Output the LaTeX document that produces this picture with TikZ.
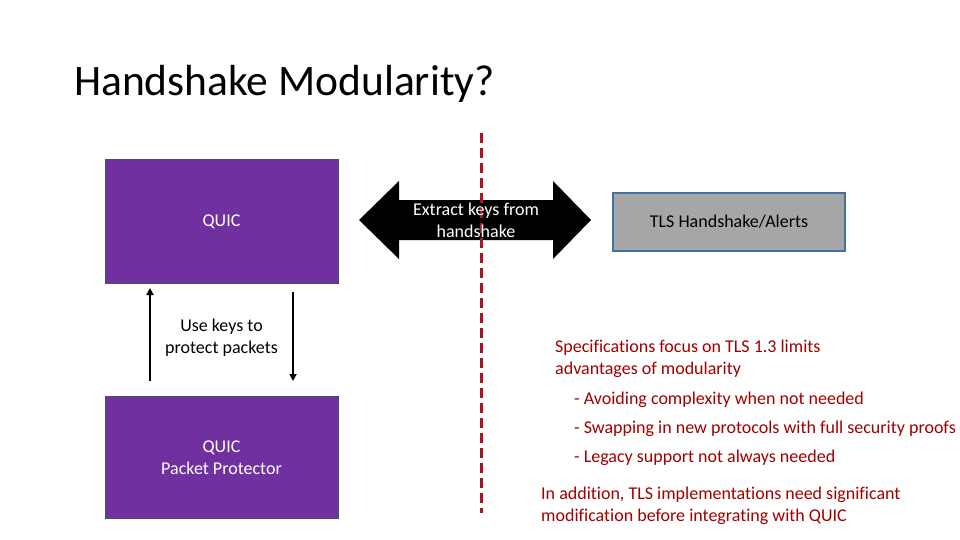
\documentclass[tikz,border=0pt]{standalone}
\usepackage{fontspec}
\setmainfont{Carlito}[Ligatures=CommonOff]
\usetikzlibrary{arrows.meta}
\definecolor{quicpurple}{RGB}{112,48,160}
\definecolor{quicborder}{RGB}{65,80,120}
\definecolor{tlsgray}{RGB}{166,166,166}
\definecolor{tlsborder}{RGB}{65,113,156}
\definecolor{darkred}{RGB}{160,0,0}
\definecolor{dashred}{RGB}{170,20,30}
\tikzset{
  bodyfont/.style={font=\fontsize{18}{22}\selectfont},
  quicbox/.style={bodyfont, draw=quicborder, line width=1pt, fill=quicpurple, text=white, minimum width=233pt, minimum height=124pt, inner sep=0pt, align=center},
  tlsbox/.style={bodyfont, draw=tlsborder, line width=2pt, fill=tlsgray, text=black, minimum width=232pt, minimum height=58pt, inner sep=0pt},
  bodytext/.style={bodyfont, text=black, align=center, inner sep=0pt},
  redtext/.style={bodyfont, text=darkred, align=left, anchor=west, inner sep=0pt},
  vertarrow/.style={line width=2.5pt, -{Triangle[width=7pt,length=7pt]}},
}
\begin{document}
\begin{tikzpicture}[x=1pt,y=-1pt]
\useasboundingbox (0,0) rectangle (960,540);
\fill[white] (0,0) rectangle (960,540);
% title
\node[anchor=base west, inner sep=0pt, font=\fontsize{43.5}{50}\selectfont] (title) at (74,96) {Handshake Modularity?};
% boxes
\node[quicbox] (quic) at (221.5,221.5) {QUIC};
\node[quicbox, minimum height=122pt] (pp) at (221.5,457.5) {QUIC\\Packet Protector};
\node[tlsbox] (tls) at (729,221.5) {TLS Handshake/Alerts};
% vertical arrows
\coordinate (upS) at (150,381);
\coordinate (upE) at (150,288);
\coordinate (dnS) at (293,292);
\coordinate (dnE) at (293,381);
\draw[vertarrow] (upS) -- (upE);
\draw[vertarrow] (dnS) -- (dnE);
\node[bodytext] (usekeys) at (221.5,338) {Use keys to\\protect packets};
% double arrow
\fill[black] (359,220) -- (399,181) -- (399,200) -- (553,200) -- (553,181) -- (591,220) -- (553,259) -- (553,240) -- (399,240) -- (399,259) -- cycle;
% dashed divider
\coordinate (divT) at (481,133);
\coordinate (divB) at (481,513);
\draw[dashred, line width=3pt, dash pattern=on 10pt off 5pt] (divT) -- (divB);
\node[bodytext, text=white] (extract) at (476,220.5) {Extract keys from\\handshake};
% red texts
\node[redtext] (spec) at (555,359) {Specifications focus on TLS 1.3 limits\\advantages of modularity};
\node[redtext] (b1) at (574,400) {- Avoiding complexity when not needed};
\node[redtext] (b2) at (574,429) {- Swapping in new protocols with full security proofs};
\node[redtext] (b3) at (574,458) {- Legacy support not always needed};
\node[redtext] (add) at (541,506) {In addition, TLS implementations need significant\\modification before integrating with QUIC};
\end{tikzpicture}
\end{document}
